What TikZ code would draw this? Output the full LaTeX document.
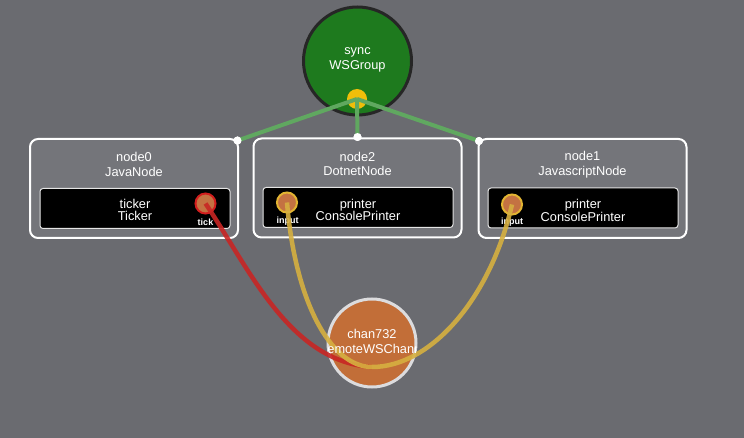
\documentclass[tikz,border=0pt]{standalone}
\usepackage{fontspec}
\setmainfont{Liberation Sans}
\definecolor{bg}{RGB}{106,107,112}
\definecolor{boxfill}{RGB}{116,117,122}
\definecolor{syncgreen}{RGB}{30,122,30}
\definecolor{linkgreen}{RGB}{96,168,96}
\definecolor{dotyellow}{RGB}{240,190,10}
\definecolor{portfill}{RGB}{196,114,66}
\definecolor{portred}{RGB}{210,30,30}
\definecolor{portyellow}{RGB}{226,180,50}
\definecolor{wirered}{RGB}{200,38,36}
\definecolor{wireyellow}{RGB}{214,176,64}
\definecolor{chanfill}{RGB}{194,110,56}
\definecolor{chanborder}{RGB}{220,220,222}
\begin{document}
\begin{tikzpicture}[x=1pt,y=-1pt,
  hostbox/.style={draw=white, line width=2pt, rounded corners=8pt, fill=boxfill, minimum width=208pt, minimum height=99pt, inner sep=0pt, outer sep=0pt},
  compbox/.style={draw=white!80!gray, line width=1pt, rounded corners=3pt, fill=black, minimum width=190pt, minimum height=40pt, inner sep=0pt, outer sep=0pt},
  title/.style={text=white, align=center, font=\fontsize{12.8}{14.5}\selectfont, inner sep=0pt},
  ctitle/.style={text=white, align=center, font=\fontsize{12.8}{12.5}\selectfont, inner sep=0pt},
  port/.style={circle, fill=portfill, line width=2pt, minimum size=20pt, inner sep=0pt},
  portlabel/.style={text=white, font=\bfseries\fontsize{9}{9}\selectfont, inner sep=0pt},
  wdot/.style={circle, fill=white, minimum size=8pt, inner sep=0pt},
  wire/.style={line width=4.5pt, opacity=0.9},
  glink/.style={draw=linkgreen, line width=4pt}
]
\fill[bg] (0,0) rectangle (744,438);
\useasboundingbox (0,0) rectangle (744,438);

% sync group
\node[circle, draw=black!85, line width=3pt, fill=syncgreen, minimum size=108pt, inner sep=0pt] (sync) at (357.5,61) {};
\node[title, font=\fontsize{12.8}{15.5}\selectfont] (synct) at (357.5,60) {sync\\WSGroup};
\node[circle, fill=dotyellow, minimum size=20pt, inner sep=0pt] (sdot) at (357,99) {};

% host nodes
\node[hostbox] (n0) at (134,188.5) {};
\node[hostbox] (n2) at (357.5,188) {};
\node[hostbox] (n1) at (582.5,188.5) {};

\node[title] (n0t) at (134,164.5) {node0\\JavaNode};
\node[title] (n2t) at (357.5,164) {node2\\DotnetNode};
\node[title] (n1t) at (582.5,164.5) {node1\\JavascriptNode};

\node[compbox] (c0) at (135,208.5) {};
\node[compbox] (c2) at (358,207.5) {};
\node[compbox] (c1) at (583,208) {};

\node[ctitle] (c0t) at (135,210) {ticker\\Ticker};
\node[ctitle] (c2t) at (358,210) {printer\\ConsolePrinter};
\node[ctitle] (c1t) at (583,210.5) {printer\\ConsolePrinter};

\node[port, draw=portred] (p0) at (205.5,203.5) {};
\node[port, draw=portyellow] (p2) at (287,202.5) {};
\node[port, draw=portyellow] (p1) at (512,204.5) {};
\node[portlabel] (p0l) at (205.5,222) {tick};
\node[portlabel] (p2l) at (287.5,221) {input};
\node[portlabel] (p1l) at (512,222) {input};

% attachment dots
\node[wdot] (d0) at (237.5,140.5) {};
\node[wdot] (d2) at (357.5,137) {};
\node[wdot] (d1) at (479,141) {};

\draw[glink] (sdot.center) -- (d0.center);
\draw[glink] (sdot.center) -- (d2.center);
\draw[glink] (sdot.center) -- (d1.center);
\node[wdot] at (d0) {};
\node[wdot] at (d2) {};
\node[wdot] at (d1) {};

% channel
\node[circle, draw=chanborder, line width=3pt, fill=chanfill, minimum size=88pt, inner sep=0pt] (ch) at (372,343) {};
\coordinate (chin) at (372,367);

\draw[wire, draw=wirered] (p0.center) .. controls (250,270) and (290,362) .. (chin);
\draw[wire, draw=wireyellow] (p2.center) .. controls (295,300) and (330,367) .. (chin);
\draw[wire, draw=wireyellow] (p1.center) .. controls (490,300) and (430,367) .. (chin);

\begin{scope}
\clip (ch.center) circle (44.5pt);
\node[title] (cht1) at (372,334) {chan732};
\node[title, anchor=west] (cht2) at (318,349) {RemoteWSChannel};
\end{scope}
\end{tikzpicture}
\end{document}
